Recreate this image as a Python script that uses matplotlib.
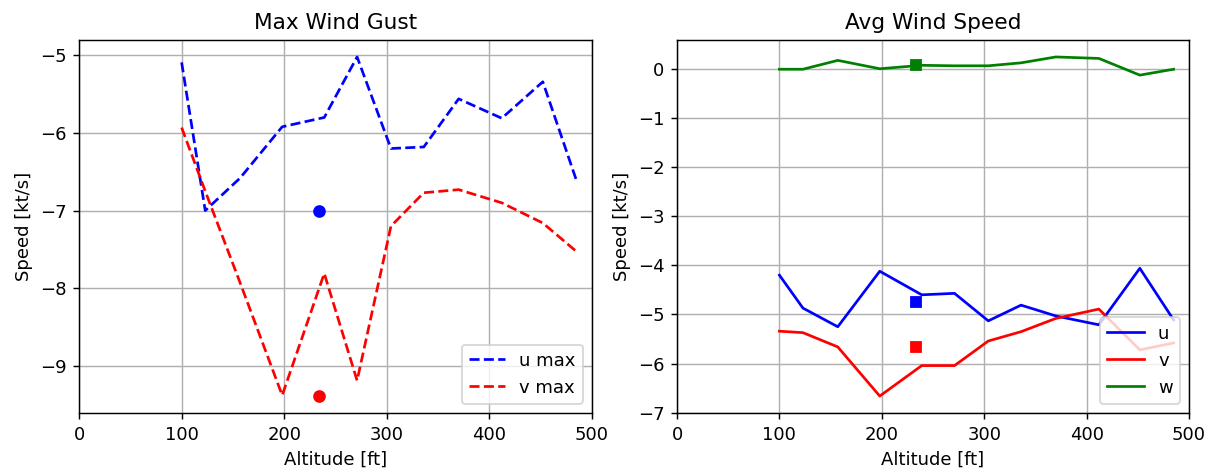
import matplotlib.pyplot as plt
import numpy as np

# altitude samples [ft]
alt = [100, 123, 157, 198, 239, 271, 304, 336, 370, 412, 452, 485]

# max wind gust [kt/s]
u_max = [-5.09, -7.00, -6.58, -5.92, -5.80, -5.02, -6.20, -6.18, -5.56, -5.81, -5.34, -6.62]
v_max = [-5.93, -6.75, -7.93, -9.38, -7.81, -9.19, -7.20, -6.77, -6.73, -6.90, -7.16, -7.53]

# average wind speed [kt/s]
u_avg = [-4.20, -4.87, -5.25, -4.12, -4.60, -4.57, -5.13, -4.81, -5.03, -5.21, -4.06, -5.11]
v_avg = [-5.34, -5.37, -5.66, -6.66, -6.04, -6.04, -5.54, -5.35, -5.08, -4.89, -5.72, -5.58]
w_avg = [-0.01, -0.01, 0.17, 0.00, 0.07, 0.06, 0.06, 0.12, 0.24, 0.21, -0.13, -0.01]

# reference point
ref_alt = 233.5
ref_gust = [-7.0, -9.39]
ref_avg = [-4.74, -5.67, 0.07]

fig = plt.figure(figsize=(1212 / 130, 471 / 130), dpi=130)
ax1 = fig.add_axes([0.0652, 0.1231, 0.4233, 0.792])
ax2 = fig.add_axes([0.5586, 0.1231, 0.4224, 0.792])

ax1.plot(alt, u_max, 'b--', label='u max')
ax1.plot(alt, v_max, 'r--', label='v max')
ax1.plot(ref_alt, ref_gust[0], 'bo')
ax1.plot(ref_alt, ref_gust[1], 'ro')
ax1.set_xlim(0, 500)
ax1.set_title('Max Wind Gust')
ax1.set_xlabel('Altitude [ft]')
ax1.set_ylabel('Speed [kt/s]')
ax1.grid(True)
ax1.legend(loc='lower right')

ax2.plot(alt, u_avg, 'b-', label='u')
ax2.plot(alt, v_avg, 'r-', label='v')
ax2.plot(alt, w_avg, 'g-', label='w')
ax2.plot(ref_alt, ref_avg[0], 'bs')
ax2.plot(ref_alt, ref_avg[1], 'rs')
ax2.plot(ref_alt, ref_avg[2], 'gs')
ax2.set_xlim(0, 500)
ax2.set_title('Avg Wind Speed')
ax2.set_xlabel('Altitude [ft]')
ax2.set_ylabel('Speed [kt/s]')
ax2.grid(True)
ax2.legend(loc='lower right')

plt.savefig('out.png', dpi=130)
